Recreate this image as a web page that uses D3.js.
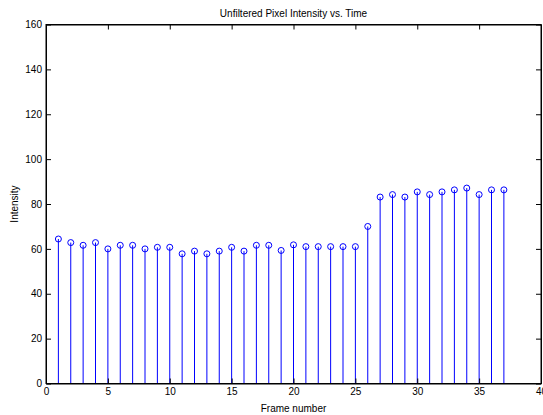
<!DOCTYPE html>
<html>
<head>
<meta charset="utf-8">
<script src="https://cdn.jsdelivr.net/npm/d3@7"></script>
<style>
  body { margin: 0; background: #fff; }
  text { font-family: "Liberation Sans", Arial, sans-serif; fill: #000; }
</style>
</head>
<body>
<svg id="chart" width="543" height="415"></svg>
<script>
// frame numbers and intensity values
var frames = d3.range(1, 38);
var intensity = [64.4, 62.8, 61.6, 62.8, 60, 61.6, 61.6, 60, 60.7, 60.7,
                 57.8, 59, 57.8, 59, 60.7, 59, 61.6, 61.6, 59.3, 61.8,
                 61, 61, 61, 61, 61, 70, 83.1, 84.2, 83.1, 85.4,
                 84.2, 85.4, 86.3, 87.1, 84.2, 86.3, 86.3];
var xTicks = [0, 5, 10, 15, 20, 25, 30, 35, 40];
var yTicks = [0, 20, 40, 60, 80, 100, 120, 140, 160];

var svg = d3.select('#chart');
var plot = { l: 46, r: 541, t: 24.5, b: 383.5 };

var x = d3.scaleLinear().domain([0, 40]).range([plot.l, plot.r]);
var y = d3.scaleLinear().domain([0, 160]).range([plot.b, plot.t]);

var data = frames.map(function(f, i) { return { f: f, v: intensity[i] }; });

// stems
svg.append('g').selectAll('line')
    .data(data)
    .enter().append('line')
    .attr('x1', d => x(d.f)).attr('x2', d => x(d.f))
    .attr('y1', y(0)).attr('y2', d => y(d.v))
    .attr('stroke', '#0000ff')
    .attr('stroke-width', 1);

// markers
svg.append('g').selectAll('circle')
    .data(data)
    .enter().append('circle')
    .attr('cx', d => x(d.f))
    .attr('cy', d => y(d.v))
    .attr('r', 3)
    .attr('fill', 'none')
    .attr('stroke', '#0000ff')
    .attr('stroke-width', 1);

// axes with inward ticks on all four sides
svg.append('g')
    .attr('transform', `translate(0, ${plot.b})`)
    .call(d3.axisBottom(x).tickValues(xTicks).tickSizeInner(-5).tickSizeOuter(0).tickPadding(4));
svg.append('g')
    .attr('transform', `translate(0, ${plot.t})`)
    .call(d3.axisTop(x).tickValues(xTicks).tickSizeInner(-5).tickSizeOuter(0).tickFormat(''));
svg.append('g')
    .attr('transform', `translate(${plot.l}, 0)`)
    .call(d3.axisLeft(y).tickValues(yTicks).tickSizeInner(-5).tickSizeOuter(0).tickPadding(4));
svg.append('g')
    .attr('transform', `translate(${plot.r}, 0)`)
    .call(d3.axisRight(y).tickValues(yTicks).tickSizeInner(-5).tickSizeOuter(0).tickFormat(''));

svg.selectAll('.domain').attr('stroke', '#000');
svg.selectAll('.tick line').attr('stroke', '#000');
svg.selectAll('.tick text').attr('font-size', 10).attr('font-family', '"Liberation Sans", Arial, sans-serif');

// box
svg.append('rect')
    .attr('x', plot.l).attr('y', plot.t)
    .attr('width', plot.r - plot.l).attr('height', plot.b - plot.t)
    .attr('fill', 'none').attr('stroke', '#000');

// title and labels
svg.append('text')
    .attr('x', (plot.l + plot.r) / 2).attr('y', 17)
    .attr('text-anchor', 'middle').attr('font-size', 10)
    .text('Unfiltered Pixel Intensity vs. Time');
svg.append('text')
    .attr('x', (plot.l + plot.r) / 2).attr('y', 412)
    .attr('text-anchor', 'middle').attr('font-size', 10)
    .text('Frame number');
svg.append('text')
    .attr('transform', `translate(18, ${(plot.t + plot.b) / 2}) rotate(-90)`)
    .attr('text-anchor', 'middle').attr('font-size', 10)
    .text('Intensity');
</script>
</body>
</html>
